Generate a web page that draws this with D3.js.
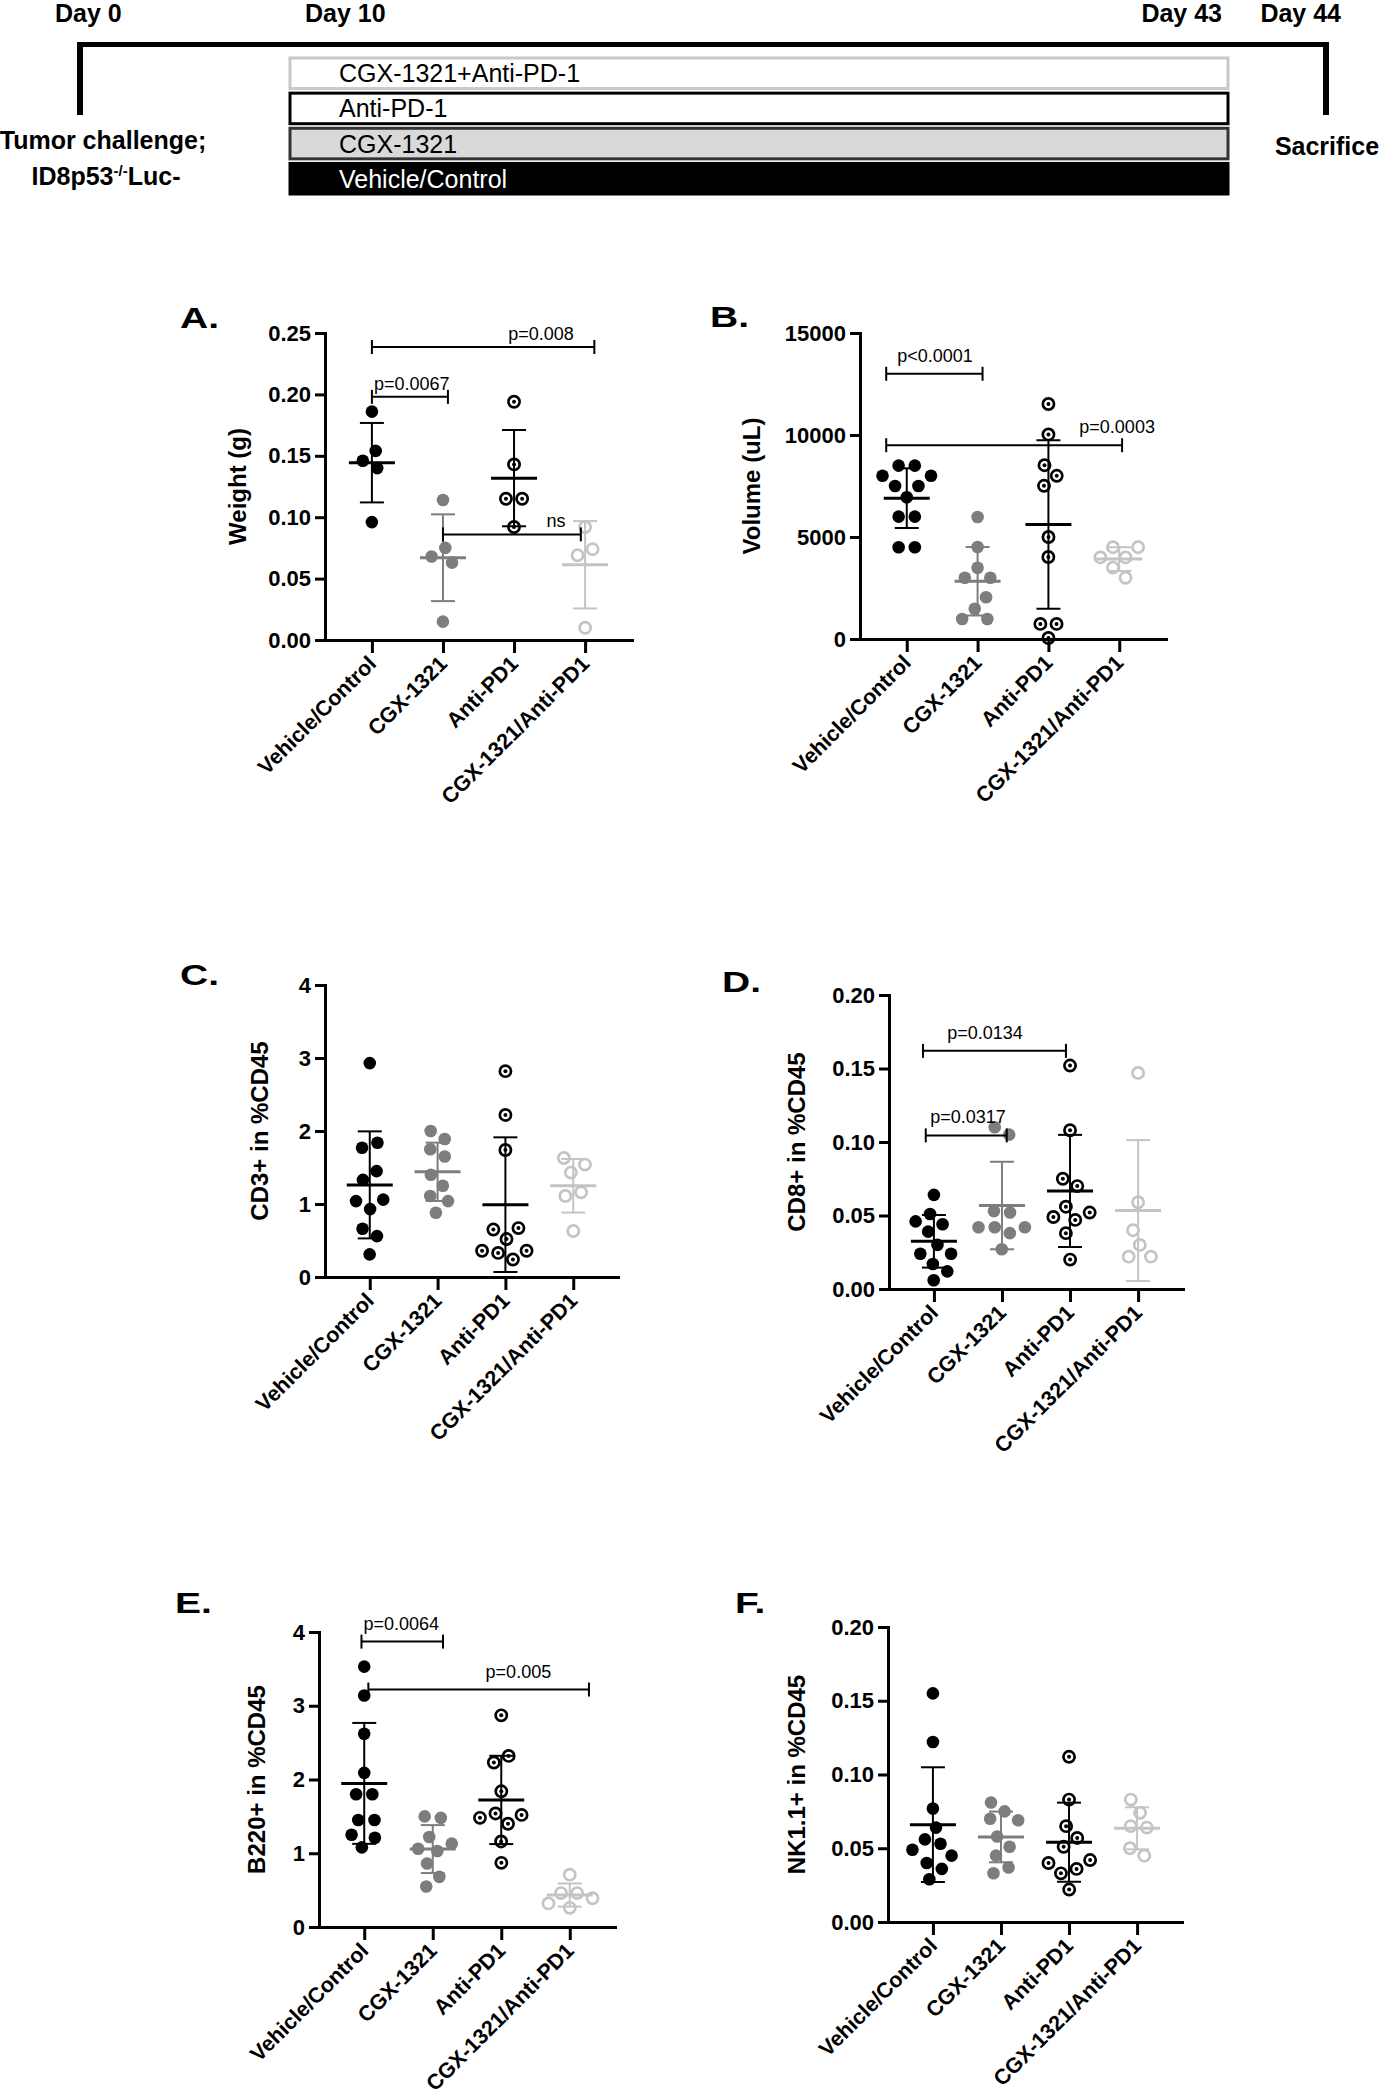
<!DOCTYPE html>
<html>
<head>
<meta charset="utf-8">
<script src="https://cdn.jsdelivr.net/npm/d3@7"></script>
<style>
  body { margin: 0; background: #fff; }
</style>
</head>
<body>
<script>
// ---- data ----
const groups = ['Vehicle/Control', 'CGX-1321', 'Anti-PD1', 'CGX-1321/Anti-PD1'];

// timeline
const days = [0, 10, 43, 44];
const dayLabels = ['Day 0', 'Day 10', 'Day 43', 'Day 44'];
const treatments = ['CGX-1321+Anti-PD-1', 'Anti-PD-1', 'CGX-1321', 'Vehicle/Control'];

// one array per group: vehicle, CGX-1321, anti-PD1, combination
const weight = [
  [0.186, 0.154, 0.146, 0.140, 0.096],
  [0.114, 0.075, 0.068, 0.063, 0.015],
  [0.194, 0.143, 0.115, 0.115, 0.092],
  [0.092, 0.074, 0.069, 0.010]
];
const volume = [
  [8500, 8500, 8000, 8000, 7500, 7500, 6950, 6000, 6000, 4500, 4500],
  [5980, 4510, 3490, 3000, 3000, 2050, 1480, 980, 980],
  [11520, 10030, 8520, 8000, 7510, 5000, 4020, 740, 740, 50],
  [4500, 4500, 4000, 4000, 3500, 3000]
];
const cd3 = [
  [2.93, 1.84, 1.77, 1.45, 1.33, 1.06, 1.04, 0.93, 0.66, 0.56, 0.31],
  [2.00, 1.89, 1.75, 1.65, 1.40, 1.25, 1.11, 1.04, 0.88],
  [2.82, 2.22, 1.74, 0.67, 0.65, 0.52, 0.36, 0.36, 0.33, 0.24],
  [1.63, 1.54, 1.43, 1.16, 1.11, 0.63]
];
const cd8 = [
  [0.064, 0.051, 0.046, 0.044, 0.039, 0.030, 0.024, 0.024, 0.017, 0.012, 0.006],
  [0.110, 0.105, 0.053, 0.052, 0.042, 0.042, 0.042, 0.038, 0.027],
  [0.152, 0.108, 0.075, 0.070, 0.056, 0.052, 0.049, 0.047, 0.038, 0.020],
  [0.147, 0.059, 0.040, 0.030, 0.022, 0.022]
];
const b220 = [
  [3.53, 3.14, 2.62, 2.09, 1.80, 1.80, 1.45, 1.45, 1.25, 1.21, 1.08],
  [1.50, 1.48, 1.22, 1.13, 1.06, 1.03, 0.86, 0.68, 0.55],
  [2.87, 2.32, 2.23, 1.84, 1.54, 1.52, 1.48, 1.40, 1.16, 0.87],
  [0.71, 0.46, 0.46, 0.39, 0.32, 0.26]
];
const nk11 = [
  [0.155, 0.122, 0.077, 0.064, 0.056, 0.053, 0.049, 0.045, 0.040, 0.036, 0.029],
  [0.081, 0.075, 0.070, 0.069, 0.058, 0.051, 0.045, 0.037, 0.033],
  [0.112, 0.083, 0.065, 0.057, 0.051, 0.042, 0.040, 0.036, 0.033, 0.022],
  [0.083, 0.074, 0.065, 0.064, 0.050, 0.045]
];

// significance brackets: from/to in category units, value on the y scale
const bracketsA = [
  { a: 0, b: 1.07, v: 0.198, t: 'p=0.0067', lx: 0.56 },
  { a: 0, b: 3.13, v: 0.2386, t: 'p=0.008', lx: 2.38 },
  { a: 1, b: 2.94, v: 0.086, t: 'ns', lx: 2.59 }
];
const bracketsB = [
  { a: -0.29, b: 1.07, v: 13000, t: 'p<0.0001', lx: 0.4 },
  { a: -0.29, b: 3.04, v: 9500, t: 'p=0.0003', lx: 2.97 }
];
const bracketsD = [
  { a: -0.16, b: 1.94, v: 0.162, t: 'p=0.0134', lx: 0.75 },
  { a: -0.12, b: 1.07, v: 0.1045, t: 'p=0.0317', lx: 0.5 }
];
const bracketsE = [
  { a: -0.04, b: 1.15, v: 3.87, t: 'p=0.0064', lx: 0.54 },
  { a: 0.06, b: 3.28, v: 3.22, t: 'p=0.005', lx: 2.25 }
];

// ---- drawing ----
const W = 1380, H = 2100;
const font = '"Liberation Sans", Arial, Helvetica, sans-serif';
const groupColor = ['#000000', '#7d7d7d', '#000000', '#c4c4c4'];

const svg = d3.select('body')
  .append('svg')
  .attr('width', W)
  .attr('height', H)
  .style('font-family', font);

// timeline
const tx = d3.scaleLinear().domain(days).range([80, 290, 1228, 1326]);

svg.append('line')
  .attr('x1', tx(0)).attr('x2', tx(44))
  .attr('y1', 44.5).attr('y2', 44.5)
  .attr('stroke', '#000').attr('stroke-width', 5);

[0, 44].forEach(function (d) {
  svg.append('line')
    .attr('x1', tx(d)).attr('x2', tx(d))
    .attr('y1', 42).attr('y2', 115)
    .attr('stroke', '#000').attr('stroke-width', 6);
});

const dayDx = [-25, 15, -6, 15];
const dayAnchor = ['start', 'start', 'end', 'end'];
svg.selectAll('.day')
  .data(days)
  .enter()
  .append('text')
  .attr('class', 'day')
  .attr('x', (d, i) => tx(d) + dayDx[i])
  .attr('y', 22)
  .attr('text-anchor', (d, i) => dayAnchor[i])
  .style('font', 'bold 25px ' + font)
  .text((d, i) => dayLabels[i]);

const ty = d3.scaleBand().domain(treatments).range([58, 194]).paddingInner(0.13);
const boxFill = ['#ffffff', '#ffffff', '#d9d9d9', '#000000'];
const boxStroke = ['#c8c8c8', '#000000', '#333333', '#000000'];
const boxText = ['#000000', '#000000', '#000000', '#ffffff'];

svg.selectAll('.box')
  .data(treatments)
  .enter()
  .append('rect')
  .attr('class', 'box')
  .attr('x', tx(10))
  .attr('y', d => ty(d))
  .attr('width', tx(43) - tx(10))
  .attr('height', ty.bandwidth())
  .attr('fill', (d, i) => boxFill[i])
  .attr('stroke', (d, i) => boxStroke[i])
  .attr('stroke-width', 3);

svg.selectAll('.boxlabel')
  .data(treatments)
  .enter()
  .append('text')
  .attr('class', 'boxlabel')
  .attr('x', tx(10) + 49)
  .attr('y', d => ty(d) + ty.bandwidth() / 2)
  .attr('dy', '0.36em')
  .attr('fill', (d, i) => boxText[i])
  .style('font', '25px ' + font)
  .text(d => d);

svg.append('text')
  .attr('x', 103).attr('y', 149)
  .attr('text-anchor', 'middle')
  .style('font', 'bold 25px ' + font)
  .text('Tumor challenge;');

const idText = svg.append('text')
  .attr('x', 106).attr('y', 185)
  .attr('text-anchor', 'middle')
  .style('font', 'bold 25px ' + font);
idText.append('tspan').text('ID8p53');
idText.append('tspan').attr('dy', -9).style('font-size', '15px').text('-/-');
idText.append('tspan').attr('dy', 9).text('Luc-');

svg.append('text')
  .attr('x', 1327).attr('y', 155)
  .attr('text-anchor', 'middle')
  .style('font', 'bold 25px ' + font)
  .text('Sacrifice');

// scatter panels
const panels = [
  { data: weight, letter: 'A.', lx: 180, ly: 328, x0: 325, x1: 632, yTop: 333, yBot: 640, max: 0.25,
    ticks: [0, 0.05, 0.1, 0.15, 0.2, 0.25], fmt: '.2f', label: 'Weight (g)', labX: 238, brackets: bracketsA, gap: 7 },
  { data: volume, letter: 'B.', lx: 710, ly: 327, x0: 860, x1: 1166, yTop: 333, yBot: 639, max: 15000,
    ticks: [0, 5000, 10000, 15000], fmt: 'd', label: 'Volume (uL)', labX: 752, brackets: bracketsB, gap: 12 },
  { data: cd3, letter: 'C.', lx: 180, ly: 985, x0: 325, x1: 618, yTop: 985, yBot: 1277, max: 4,
    ticks: [0, 1, 2, 3, 4], fmt: 'd', label: 'CD3+ in %CD45', labX: 260, brackets: [], gap: 12 },
  { data: cd8, letter: 'D.', lx: 722, ly: 992, x0: 889, x1: 1183, yTop: 995, yBot: 1289, max: 0.2,
    ticks: [0, 0.05, 0.1, 0.15, 0.2], fmt: '.2f', label: 'CD8+ in %CD45', labX: 797, brackets: bracketsD, gap: 12 },
  { data: b220, letter: 'E.', lx: 175, ly: 1613, x0: 319, x1: 615, yTop: 1632, yBot: 1927, max: 4,
    ticks: [0, 1, 2, 3, 4], fmt: 'd', label: 'B220+ in %CD45', labX: 257, brackets: bracketsE, gap: 12 },
  { data: nk11, letter: 'F.', lx: 735, ly: 1613, x0: 888, x1: 1182, yTop: 1627, yBot: 1922, max: 0.2,
    ticks: [0, 0.05, 0.1, 0.15, 0.2], fmt: '.2f', label: 'NK1.1+ in %CD45', labX: 797, brackets: [], gap: 12 }
];

panels.forEach(drawPanel);

function drawPanel(p) {
  const g = svg.append('g');
  const x = d3.scalePoint().domain(groups).range([p.x0, p.x1]).padding(0.66);
  const y = d3.scaleLinear().domain([0, p.max]).range([p.yBot, p.yTop]);
  const step = x.step();
  const cat = f => x(groups[0]) + f * step;

  // panel letter (the original letters are drawn wide)
  g.append('text')
    .attr('transform', 'translate(' + p.lx + ',' + p.ly + ') scale(1.3,1)')
    .style('font', 'bold 30px ' + font)
    .text(p.letter);

  // y axis
  const ya = g.append('g')
    .attr('transform', 'translate(' + p.x0 + ',0)')
    .call(d3.axisLeft(y).tickValues(p.ticks).tickFormat(d3.format(p.fmt))
      .tickSize(10).tickSizeOuter(0).tickPadding(4));
  ya.selectAll('text').style('font', 'bold 22px ' + font).attr('fill', '#000');

  // x axis
  const xa = g.append('g')
    .attr('transform', 'translate(0,' + p.yBot + ')')
    .call(d3.axisBottom(x).tickSize(13).tickSizeOuter(0));
  xa.selectAll('text')
    .attr('x', 0).attr('y', 0).attr('dy', 0)
    .attr('text-anchor', 'end')
    .attr('transform', 'translate(5,25) rotate(-45)')
    .attr('fill', '#000')
    .style('font', 'bold 21.5px ' + font);

  [ya, xa].forEach(function (a) {
    a.select('.domain').attr('stroke', '#000').attr('stroke-width', 3).attr('stroke-linecap', 'square');
    a.selectAll('.tick line').attr('stroke', '#000').attr('stroke-width', 3);
  });

  // y label
  g.append('text')
    .attr('transform', 'translate(' + p.labX + ',' + (p.yTop + p.yBot) / 2 + ') rotate(-90)')
    .attr('text-anchor', 'middle')
    .attr('dy', '0.35em')
    .style('font', 'bold 24px ' + font)
    .text(p.label);

  // points, one swarm per group
  const r = 6.3;
  p.data.forEach(function (vals, gi) {
    const cx = x(groups[gi]);
    const nodes = vals.map((v, i) => ({ v: v, x: cx + (i % 2 ? 1 : -1) * (i * 0.4), y: y(v), fy: y(v) }));
    const sim = d3.forceSimulation(nodes)
      .force('x', d3.forceX(cx).strength(0.05))
      .force('collide', d3.forceCollide(r + 1.8))
      .stop();
    for (let k = 0; k < 300; k++) sim.tick();

    const pts = g.append('g');
    if (gi < 2) {
      pts.selectAll('circle')
        .data(nodes).enter().append('circle')
        .attr('cx', d => d.x).attr('cy', d => d.fy)
        .attr('r', r)
        .attr('fill', groupColor[gi]);
    } else {
      pts.selectAll('circle.ring')
        .data(nodes).enter().append('circle')
        .attr('class', 'ring')
        .attr('cx', d => d.x).attr('cy', d => d.fy)
        .attr('r', 5.6)
        .attr('fill', 'none')
        .attr('stroke', groupColor[gi])
        .attr('stroke-width', 2.7);
      if (gi === 2) {
        pts.selectAll('circle.dot')
          .data(nodes).enter().append('circle')
          .attr('class', 'dot')
          .attr('cx', d => d.x).attr('cy', d => d.fy)
          .attr('r', 2)
          .attr('fill', '#000');
      }
    }

    // mean and SD
    const m = d3.mean(vals);
    const s = d3.deviation(vals);
    const eb = g.append('g').attr('stroke', groupColor[gi]);
    eb.append('line')
      .attr('x1', cx).attr('x2', cx)
      .attr('y1', y(m - s)).attr('y2', y(m + s))
      .attr('stroke-width', 2);
    [m - s, m + s].forEach(function (v) {
      eb.append('line')
        .attr('x1', cx - 12).attr('x2', cx + 12)
        .attr('y1', y(v)).attr('y2', y(v))
        .attr('stroke-width', 2);
    });
    eb.append('line')
      .attr('x1', cx - 23).attr('x2', cx + 23)
      .attr('y1', y(m)).attr('y2', y(m))
      .attr('stroke-width', 3);
  });

  // significance brackets
  p.brackets.forEach(function (b) {
    const yy = y(b.v);
    const bg = g.append('g').attr('stroke', '#000').attr('stroke-width', 2);
    bg.append('line').attr('x1', cat(b.a)).attr('x2', cat(b.b)).attr('y1', yy).attr('y2', yy);
    [b.a, b.b].forEach(function (f) {
      bg.append('line').attr('x1', cat(f)).attr('x2', cat(f)).attr('y1', yy - 7).attr('y2', yy + 7);
    });
    g.append('text')
      .attr('x', cat(b.lx)).attr('y', yy - p.gap)
      .attr('text-anchor', 'middle')
      .style('font', '18px ' + font)
      .text(b.t);
  });
}
</script>
</body>
</html>
